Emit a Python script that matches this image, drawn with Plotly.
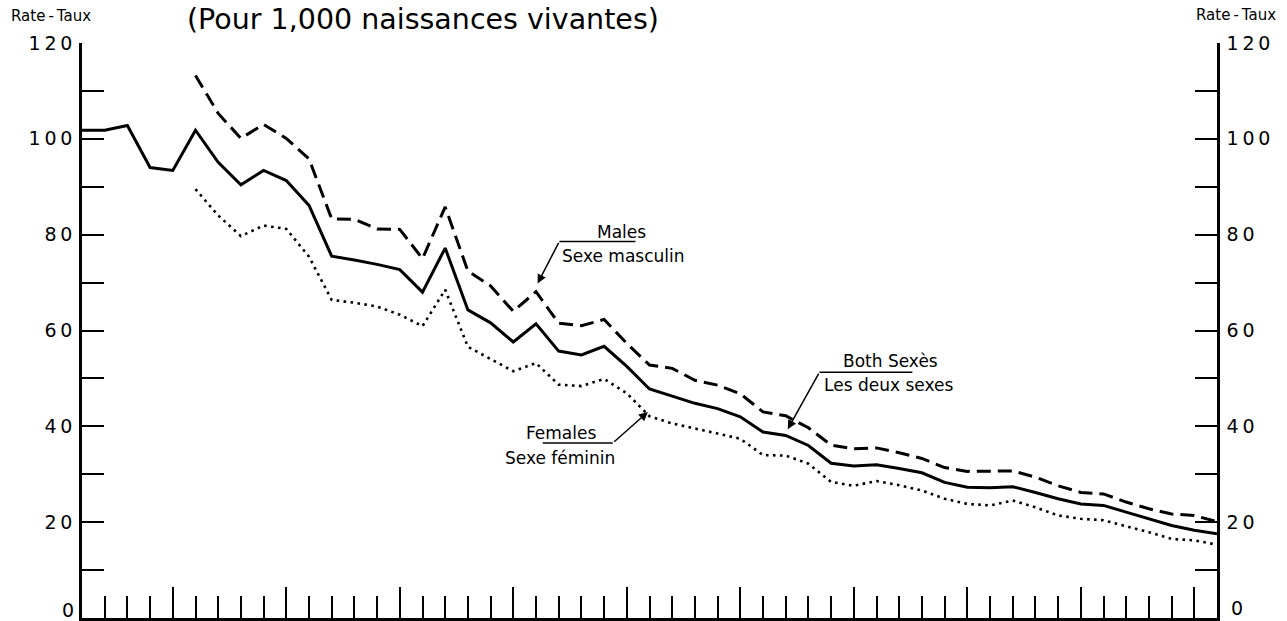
import plotly.graph_objects as go

# ---- Data (infant mortality rate per 1,000 live births) ----
years_both = list(range(1921, 1972))
both_sexes = [101.8, 101.8, 102.8, 94.0, 93.4, 101.8, 95.1, 90.4, 93.4, 91.3,
              86.1, 75.5, 74.7, 73.8, 72.7, 68.0, 77.2, 64.3, 61.6, 57.6,
              61.4, 55.7, 54.9, 56.7, 52.5, 47.8, 46.3, 44.8, 43.7, 42.0,
              38.8, 38.1, 36.0, 32.3, 31.7, 32.0, 31.2, 30.3, 28.3, 27.3,
              27.2, 27.4, 26.2, 24.9, 23.8, 23.5, 22.1, 20.7, 19.3, 18.3,
              17.6]

years_sex = list(range(1926, 1972))
males = [113.2, 105.3, 100.1, 103.0, 100.1, 95.8, 83.3, 83.2, 81.2, 81.1,
         75.0, 85.8, 72.4, 69.3, 64.0, 68.1, 61.5, 61.0, 62.3, 57.3,
         52.8, 52.1, 49.6, 48.6, 46.8, 43.0, 42.2, 39.7, 36.1, 35.3,
         35.5, 34.5, 33.3, 31.4, 30.6, 30.6, 30.7, 29.4, 27.6, 26.2,
         25.9, 24.2, 22.8, 21.7, 21.4, 20.1]
females = [89.5, 84.0, 79.7, 81.9, 81.2, 75.4, 66.4, 65.8, 65.0, 63.3,
           60.9, 68.5, 56.6, 54.0, 51.5, 53.2, 48.7, 48.4, 49.9, 46.9,
           42.1, 40.6, 39.6, 38.5, 37.4, 34.0, 33.9, 32.2, 28.4, 27.6,
           28.6, 27.7, 26.6, 24.9, 23.8, 23.5, 24.5, 23.1, 21.4, 20.7,
           20.4, 19.2, 17.9, 16.5, 16.2, 15.3]

y_tick_vals = [0, 20, 40, 60, 80, 100, 120]
# the "0" at the foot of each axis is drawn as a separate text just above the page edge
y_tick_text = ["", "2\u20090", "4\u20090", "6\u20090", "8\u20090", "1\u20090\u20090", "1\u20092\u20090"]
zero_label = "0"

title_text = "(Pour 1,000 naissances vivantes)"
rate_label = "Rate\u2009-\u2009Taux"

FONT = "DejaVu Sans"

W, H = 1287, 621
ML, MR, MT, MB = 82, 70, 43, 3
PW, PH = W - ML - MR, H - MT - MB

fig = go.Figure()
fig.add_trace(go.Scatter(x=years_both, y=both_sexes, mode="lines",
                         line=dict(color="black", width=3), showlegend=False))
fig.add_trace(go.Scatter(x=years_sex, y=males, mode="lines",
                         line=dict(color="black", width=3, dash="14px,7px"), showlegend=False))
fig.add_trace(go.Scatter(x=years_sex, y=females, mode="lines",
                         line=dict(color="black", width=2.6, dash="2.6px,4.4px"), showlegend=False))
# invisible trace to carry the right-hand axis
fig.add_trace(go.Scatter(x=[years_both[0]], y=[0], yaxis="y2", mode="markers",
                         marker=dict(opacity=0), showlegend=False, hoverinfo="skip"))

axis_common = dict(range=[0, 120], showline=True, linecolor="black", linewidth=2.5,
                   ticks="inside", ticklen=22, tickwidth=2, tickcolor="black",
                   tickvals=y_tick_vals, ticktext=y_tick_text,
                   minor=dict(dtick=10, ticks="inside", ticklen=22, tickwidth=2, tickcolor="black"),
                   showgrid=False, zeroline=False,
                   tickfont=dict(family=FONT, size=19, color="black"),
                   ticklabelstandoff=3)

fig.update_layout(
    width=W, height=H,
    margin=dict(l=ML, r=MR, t=MT, b=MB, autoexpand=False),
    paper_bgcolor="white", plot_bgcolor="white",
    xaxis=dict(range=[1921, 1971], showline=True, linecolor="black", linewidth=3,
               ticks="inside", tick0=1920, dtick=5, ticklen=31, tickwidth=2, tickcolor="black",
               minor=dict(dtick=1, tick0=1921, ticks="inside", ticklen=22, tickwidth=2, tickcolor="black"),
               showticklabels=False, showgrid=False, zeroline=False),
    yaxis=dict(**axis_common),
    yaxis2=dict(**axis_common, overlaying="y", side="right", matches="y"),
)


def label(x, y, text, size=17):
    fig.add_annotation(x=x, y=y, xref="x", yref="y", text=text, showarrow=False,
                       xanchor="center", yanchor="middle",
                       font=dict(family=FONT, size=size, color="black"))


def leader(x0, x1, y, tipx, tipy, startx):
    fig.add_shape(type="line", xref="x", yref="y", x0=x0, x1=x1, y0=y, y1=y,
                  line=dict(color="black", width=1.5))
    fig.add_annotation(x=tipx, y=tipy, xref="x", yref="y", ax=startx, ay=y,
                       axref="x", ayref="y", text="", showarrow=True,
                       arrowhead=2, arrowsize=1.2, arrowwidth=1.5, arrowcolor="black")


# Males
label(1944.77, 80.6, "Males")
label(1944.85, 75.6, "Sexe masculin")
leader(1942.03, 1945.38, 78.6, 1941.07, 69.8, 1942.03)
# Both sexes
label(1956.61, 53.6, "Both Sexès")
label(1956.53, 48.6, "Les deux sexes")
leader(1953.49, 1957.58, 51.3, 1952.09, 39.4, 1953.49)
# Females
label(1942.11, 38.6, "Females")
label(1942.07, 33.3, "Sexe féminin")
leader(1941.3, 1944.38, 36.5, 1945.93, 43.0, 1944.38)


def px_to_paper(xp, yp):
    return (xp - ML) / PW, (H - MB - yp) / PH


def paper_text(xp, yp, text, size, anchor="center"):
    px, py = px_to_paper(xp, yp)
    fig.add_annotation(x=px, y=py, xref="paper", yref="paper", text=text, showarrow=False,
                       xanchor=anchor, yanchor="middle",
                       font=dict(family=FONT, size=size, color="black"))


paper_text(422.5, 19, title_text, 28.5)
paper_text(50.5, 16, rate_label, 15)
paper_text(1236, 15, rate_label, 15)
paper_text(76, 610, zero_label, 19, anchor="right")
paper_text(1229, 608, zero_label, 19, anchor="left")

fig.write_html("out.html",
               config={"displayModeBar": False},
               post_script="document.body.style.margin='0';document.body.style.overflow='hidden';")
